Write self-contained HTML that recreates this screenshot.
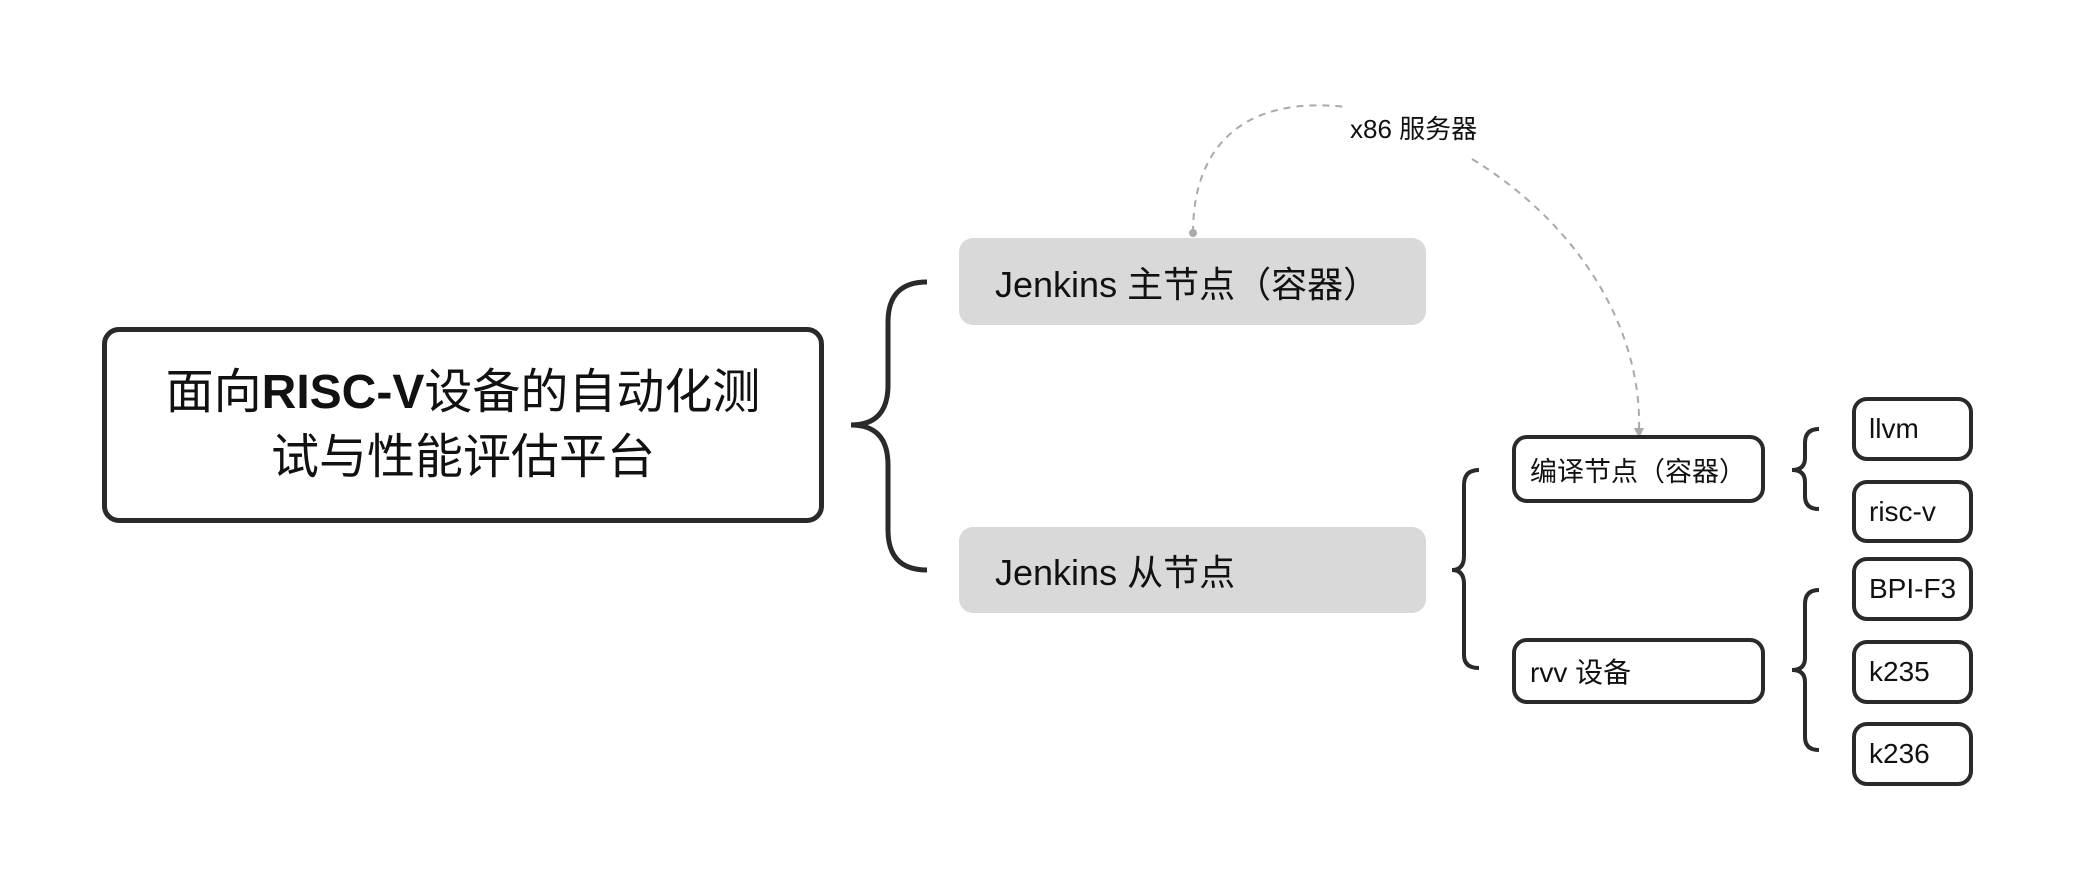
<!DOCTYPE html>
<html><head><meta charset="utf-8"><style>
html,body{margin:0;padding:0;background:#fff}
body{width:2074px;height:886px;position:relative;overflow:hidden;font-family:"Liberation Sans","Noto Sans CJK SC",sans-serif;color:#111}
.b{position:absolute;box-sizing:border-box;display:flex;align-items:center}
.o{border:4px solid #2a2a2a;border-radius:15px;background:#fff;font-size:28px}
.g{background:#d9d9d9;border-radius:14px;font-size:36px;padding-left:36px}
</style></head><body>
<svg width="2074" height="886" style="position:absolute;left:0;top:0">
<g fill="none" stroke="#2a2a2a" stroke-width="5" stroke-linecap="butt">
<path d="M927,282 Q888,282 888,322 L888,385 Q888,425 851,425 Q888,425 888,465 L888,530 Q888,570 927,570"/>
</g>
<g fill="none" stroke="#2a2a2a" stroke-width="4">
<path d="M1479,470 Q1464,470 1464,485 L1464,556 Q1464,570 1452,570 Q1464,570 1464,584 L1464,655 Q1464,668 1479,668"/>
<path d="M1819,429 Q1805,429 1805,443 L1805,458 Q1805,470 1792,470 Q1805,470 1805,482 L1805,496 Q1805,509 1819,509"/>
<path d="M1819,590 Q1805,590 1805,604 L1805,658 Q1805,670 1792,670 Q1805,670 1805,682 L1805,737 Q1805,750 1819,750"/>
</g>
<g fill="none" stroke="#aaa" stroke-width="2" stroke-dasharray="7,6">
<path d="M1193,233 C1193,140 1250,96 1346,107"/>
<path d="M1472,159 C1580,225 1642,330 1639,430"/>
</g>
<circle cx="1193" cy="233" r="4" fill="#aaa"/>
<path d="M1634,428 L1644,428 L1639,438 Z" fill="#aaa"/>
</svg>
<div class="b" style="left:102px;top:327px;width:722px;height:196px;border:5px solid #2a2a2a;border-radius:17px;justify-content:center;text-align:center;font-size:48px;line-height:65px"><div>面向<b>RISC-V</b>设备的自动化测<br>试与性能评估平台</div></div>
<div class="b g" style="left:959px;top:238px;width:467px;height:87px">Jenkins 主节点（容器）</div>
<div class="b g" style="left:959px;top:527px;width:467px;height:86px">Jenkins 从节点</div>
<div style="position:absolute;left:1350px;top:114px;font-size:26px;line-height:30px">x86 服务器</div>
<div class="b o" style="left:1512px;top:435px;width:253px;height:68px;padding-left:14px;font-size:27px">编译节点（容器）</div>
<div class="b o" style="left:1512px;top:638px;width:253px;height:66px;padding-left:14px">rvv 设备</div>
<div class="b o" style="left:1852px;top:397px;width:121px;height:64px;padding-left:13px">llvm</div>
<div class="b o" style="left:1852px;top:480px;width:121px;height:63px;padding-left:13px">risc-v</div>
<div class="b o" style="left:1852px;top:557px;width:121px;height:64px;padding-left:13px">BPI-F3</div>
<div class="b o" style="left:1852px;top:640px;width:121px;height:64px;padding-left:13px">k235</div>
<div class="b o" style="left:1852px;top:722px;width:121px;height:64px;padding-left:13px">k236</div>
</body></html>
